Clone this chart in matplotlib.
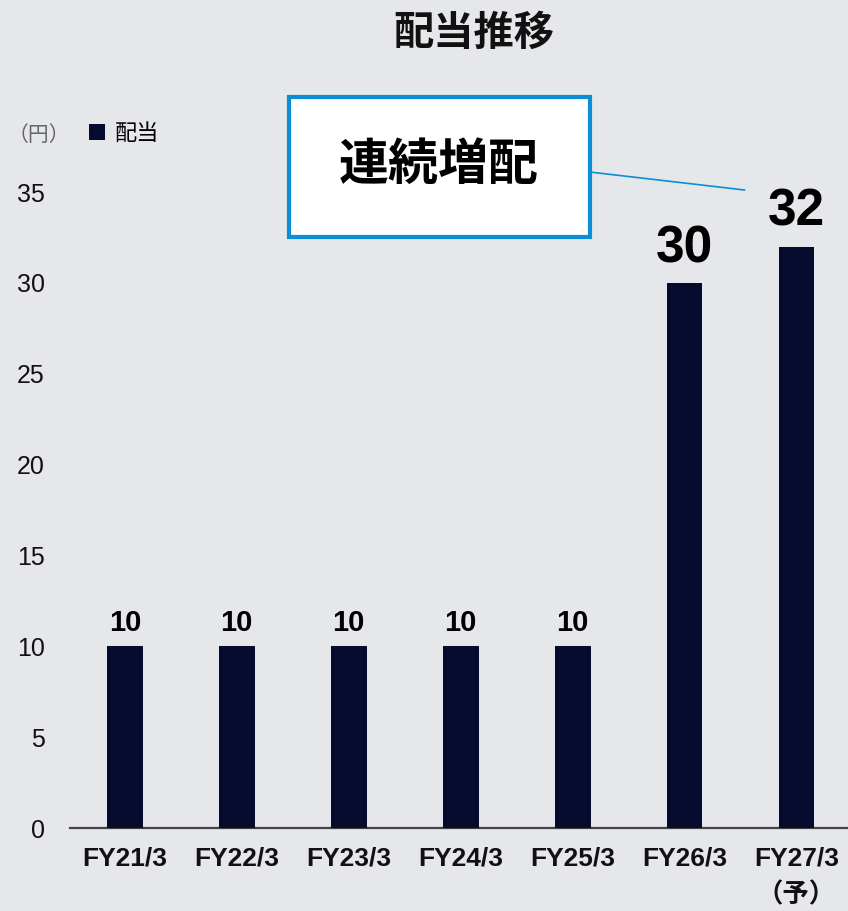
import matplotlib
matplotlib.use("Agg")
import matplotlib.pyplot as plt
from matplotlib.patches import Rectangle
from matplotlib.lines import Line2D

categories = ["FY21/3", "FY22/3", "FY23/3", "FY24/3", "FY25/3", "FY26/3", "FY27/3\n（予）"]
dividends = [10, 10, 10, 10, 10, 30, 32]
yticks = [0, 5, 10, 15, 20, 25, 30, 35]
series_name = "配当"
title = "配当推移"
callout = "連続増配"
unit = "（円）"

BG = "#E6E7EB"
BAR = "#050C2E"
BLUE = "#0A8FD6"
FAM = ["Liberation Sans", "Noto Sans CJK JP", "DejaVu Sans"]
plt.rcParams["font.family"] = FAM

fig = plt.figure(figsize=(8.48, 9.11), dpi=100, facecolor=BG)
ax = fig.add_axes([70/848, 83/911, 1 - 70/848, 636/911])
ax.set_facecolor(BG)

x = list(range(len(categories)))
bars = ax.bar(x, dividends, width=0.32, color=BAR, label=series_name, zorder=3)
ax.set_xlim(-0.49, 6.46)
ax.set_ylim(0, 35)
ax.set_yticks(yticks)
ax.set_yticklabels([str(v) for v in yticks], fontsize=18, color="#111111")
ax.set_xticks(x)
ax.set_xticklabels(categories, fontsize=19, fontweight="bold", color="#111111", linespacing=1.6)
ax.tick_params(axis="y", length=0, pad=18)
ax.tick_params(axis="x", length=0, pad=13)
for s in ["top", "right", "left"]:
    ax.spines[s].set_visible(False)
ax.spines["bottom"].set_color("#444444")
ax.spines["bottom"].set_linewidth(1.6)

for xi, v in zip(x, dividends):
    big = v >= 30
    ax.annotate(str(v), (xi, v), xytext=(0, 15 if big else 11), textcoords="offset points",
                ha="center", va="baseline", fontsize=37 if big else 21,
                fontweight="bold", color="#000000", annotation_clip=False)

# title
fig.text(474/848, 1 - 34/911, title, ha="center", va="center", fontsize=29,
         fontweight="bold", color="#111111")

# unit and legend
fig.text(8/848, 1 - 135/911, unit, ha="left", va="center", fontsize=15, color="#666666")
leg = ax.legend(loc="center left", bbox_to_anchor=(89/848, 1 - 134/911),
                bbox_transform=fig.transFigure, frameon=False, fontsize=16,
                handlelength=0.7, handleheight=0.7, handletextpad=0.45, borderpad=0,
                borderaxespad=0)

# callout box
x0 = (289 - 125) / 112
x1 = (590 - 125) / 112
y0 = (828 - 237) / (636 / 35)
y1 = (828 - 97) / (636 / 35)
rect = Rectangle((x0, y0), x1 - x0, y1 - y0, facecolor="white", edgecolor=BLUE,
                 linewidth=3, clip_on=False, zorder=5)
ax.add_patch(rect)
ax.text((x0 + x1) / 2, (y0 + y1) / 2, callout, ha="center", va="center", fontsize=36,
        fontweight="bold", color="#000000", zorder=6, clip_on=False)
lx2 = (745 - 125) / 112
ly2 = (828 - 190) / (636 / 35)
ax.add_line(Line2D([x1, lx2], [(828 - 172) / (636 / 35), ly2], color=BLUE, linewidth=1.2,
                   clip_on=False, zorder=5))

fig.savefig("out.png", dpi=100, facecolor=BG)
